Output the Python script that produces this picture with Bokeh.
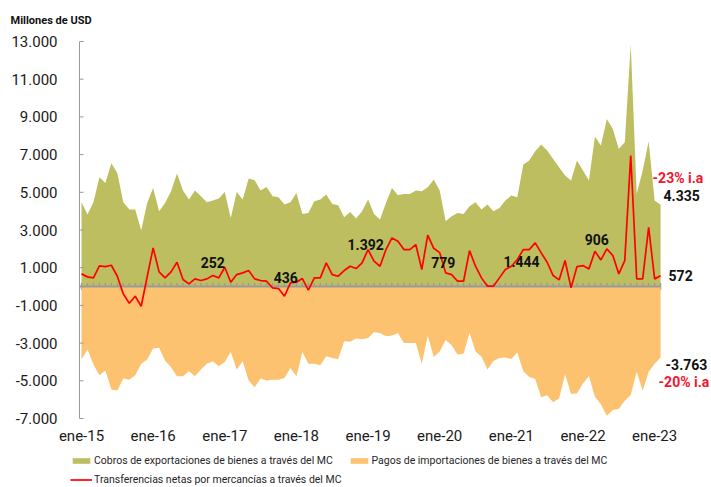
import math
from bokeh.plotting import figure
from bokeh.models import Legend, LegendItem, ColumnDataSource
from bokeh.core.properties import value
from bokeh.embed import file_html
from bokeh.resources import INLINE

# Monthly index: 0 = ene-15 ... 97 = feb-23
month_idx = list(range(98))

exports = [4490, 3819, 4473, 5799, 5499, 6542, 6029, 4473, 4084, 4084, 2988, 4438,
           5233, 3996, 4438, 5056, 5994, 5092, 4614, 5092, 4791, 4473, 4561, 4667,
           5021, 3642, 5021, 4614, 5728, 5640, 5092, 5286, 4791, 4738, 4350, 4473,
           4968, 3854, 3907, 4526, 4614, 4880, 4385, 4314, 3677, 3960, 3607, 3996,
           4614, 3854, 3554, 4438, 5233, 4844, 4914, 4914, 5092, 5056, 5269, 5675,
           5092, 3465, 3730, 3907, 3854, 4261, 4473, 4084, 4350, 3996, 4173, 4561,
           4827, 4738, 6471, 6683, 7178, 7532, 7213, 6771, 6329, 5887, 5622, 6683,
           6153, 5622, 7956, 7478, 8893, 8363, 7302, 7655, 12836, 4915, 6153, 7691,
           4561, 4335]

imports = [-3870, -3340, -4140, -4700, -4460, -5460, -5520, -4880, -4950, -4700, -4100, -3870,
           -3290, -3250, -3930, -4280, -4760, -4760, -4490, -4760, -4400, -4100, -3960, -4230,
           -4000, -3470, -4400, -3960, -4990, -5340, -4880, -4990, -4940, -4940, -4850, -4320,
           -4760, -3470, -4100, -4100, -4180, -3700, -3790, -3840, -2900, -2935, -2760, -2790,
           -2725, -2425, -2460, -2635, -2600, -2480, -2990, -2990, -3000, -4100, -2600, -3740,
           -3450, -2830, -3120, -3620, -3550, -2450, -3450, -3730, -4400, -3950, -3790, -3770,
           -3850, -3500, -4490, -4800, -4900, -5870, -5760, -6140, -5940, -4650, -5700, -5660,
           -5140, -4740, -5850, -6240, -6860, -6550, -6480, -6060, -5750, -4520, -5530, -4520,
           -4100, -3763]

net = [672, 513, 460, 1096, 1061, 1131, 548, -389, -884, -513, -1043, 520,
       2051, 778, 460, 778, 1291, 371, 141, 407, 318, 407, 583, 460,
       1025, 230, 636, 725, 849, 407, 318, 283, -71, -106, -513, 194,
       230, 424, -194, 460, 460, 1255, 636, 548, 849, 1078, 955, 1255,
       1962, 1344, 1078, 1962, 2581, 2404, 1962, 1962, 2228, 902, 2723, 2030,
       1800, 725, 636, 283, 283, 1909, 1078, 460, 18, 18, 460, 902,
       1078, 1432, 1962, 1962, 2316, 1786, 1290, 583, 354, 1379, -71, 1061,
       1114, 937, 1874, 1414, 1998, 1644, 672, 1379, 6948, 407, 407, 3147,
       407, 572]

year_ticks = [0, 12, 24, 36, 48, 60, 72, 84, 96]
year_labels = ["ene-15", "ene-16", "ene-17", "ene-18", "ene-19",
               "ene-20", "ene-21", "ene-22", "ene-23"]

y_ticks = [-7000, -5000, -3000, -1000, 1000, 3000, 5000, 7000, 9000, 11000, 13000]
y_tick_labels = ["-7.000", "-5.000", "-3.000", "-1.000", "1.000", "3.000",
                 "5.000", "7.000", "9.000", "11.000", "13.000"]
Y_MIN, Y_MAX = -7000, 13000

note_x = [22.0, 34.2, 47.6, 60.6, 73.7, 86.3]
note_y = [1290, 490, 2240, 1290, 1340, 2510]
note_text = ["252", "436", "1.392", "779", "1.444", "906"]

GREEN = "#BDBE60"
ORANGE = "#FDC26F"
RED = "#FF0000"
LABEL_RED = "#F2142D"
AXIS_GREY = "#9a9a9a"
TEXT = "#1a1a1a"
FONT = "Roboto"

# ---- layout (pixels -> data units) ----
W, H = 711, 487
PLOT_LEFT, PLOT_TOP, PLOT_BOTTOM = 79, 41, 418
PX_PER_UNIT = (PLOT_BOTTOM - PLOT_TOP) / (Y_MAX - Y_MIN)
PX_PER_MONTH = 5.97
AXIS_X = -0.335
X_START = AXIS_X - PLOT_LEFT / PX_PER_MONTH
X_END = AXIS_X + (W - PLOT_LEFT) / PX_PER_MONTH
Y_TOP = Y_MAX + PLOT_TOP / PX_PER_UNIT
Y_BOTTOM = Y_MIN - (H - PLOT_BOTTOM) / PX_PER_UNIT
MONTH_LABEL_Y = Y_MIN - 17 / PX_PER_UNIT
TICK_LEN = 4 / PX_PER_MONTH


def fmt(v):
    return f"{v:,}".replace(",", ".")


p = figure(width=W, height=H, output_backend="svg", toolbar_location=None,
           x_range=(X_START, X_END), y_range=(Y_BOTTOM, Y_TOP),
           x_axis_location=None, y_axis_location=None, min_border=0)
p.grid.visible = False
p.outline_line_color = None
p.background_fill_color = "white"

# Areas
g = p.varea(x=month_idx, y1=0, y2=exports, fill_color=GREEN)
p.scatter(x=month_idx, y=0, marker="dash", angle=math.pi / 2, size=7,
          line_color=AXIS_GREY, line_width=1.3)
o = p.varea(x=month_idx, y1=imports, y2=0, fill_color=ORANGE)
p.line(x=[AXIS_X, month_idx[-1]], y=[0, 0], line_color=AXIS_GREY, line_width=2)
r = p.line(x=month_idx, y=net, line_color=RED, line_width=1.7)

# Value axis (line, inward ticks, labels)
p.segment(x0=AXIS_X, y0=Y_MIN, x1=AXIS_X, y1=Y_MAX, line_color=AXIS_GREY, line_width=1)
p.segment(x0=AXIS_X, y0=y_ticks, x1=AXIS_X + TICK_LEN, y1=y_ticks,
          line_color=AXIS_GREY, line_width=1)
p.text(x=AXIS_X, y=y_ticks, text=y_tick_labels, x_offset=-22, text_font=value(FONT),
       text_font_size="15px", text_align="right", text_baseline="middle", text_color=TEXT)

# Title
p.text(x=[AXIS_X], y=[Y_MAX], text=["Millones de USD"], x_offset=-69, y_offset=-21,
       text_font=value(FONT), text_font_size="11px", text_font_style="bold",
       text_align="left", text_baseline="middle", text_color="#111111")

# Month labels (category axis labels)
p.text(x=year_ticks, y=MONTH_LABEL_Y, text=year_labels, text_font=value(FONT),
       text_font_size="15px", text_align="center", text_baseline="middle",
       text_color=TEXT)

# Year notes
p.text(x=note_x, y=note_y, text=note_text, text_font=value(FONT), text_font_size="14px",
       text_font_style="bold", text_align="center", text_baseline="middle", text_color="#111111")

# End labels
last = month_idx[-1]
end_src = ColumnDataSource(dict(
    x=[last, last, last],
    y=[exports[-1], net[-1], imports[-1]],
    t=[fmt(exports[-1]), fmt(net[-1]), fmt(imports[-1])],
    dx=[3, 8, 5],
    dy=[-9, 0, 7],
))
p.text(x="x", y="y", text="t", x_offset="dx", y_offset="dy", source=end_src,
       text_font=value(FONT), text_font_size="14px", text_font_style="bold",
       text_align="left", text_baseline="middle", text_color="#111111")

pct_src = ColumnDataSource(dict(
    x=[last, last],
    y=[exports[-1], imports[-1]],
    t=["-23% i.a", "-20% i.a"],
    dx=[-8, -2],
    dy=[-27, 25],
))
p.text(x="x", y="y", text="t", x_offset="dx", y_offset="dy", source=pct_src,
       text_font=value(FONT), text_font_size="14px", text_font_style="bold",
       text_align="left", text_baseline="middle", text_color=LABEL_RED)

legend = Legend(items=[
    LegendItem(label="Cobros de exportaciones de bienes a través del MC", renderers=[g]),
    LegendItem(label="Pagos de importaciones de bienes a través del MC", renderers=[o]),
    LegendItem(label="Transferencias netas por mercancías a través del MC", renderers=[r]),
], location=(70, 1), orientation="horizontal", ncols=2,
    label_text_font=FONT, label_text_font_size="10.5px", label_text_color="#262626",
    glyph_width=22, glyph_height=7, label_standoff=2, spacing=6, padding=0, margin=0,
    label_height=12, border_line_color=None, background_fill_alpha=0)
p.add_layout(legend)

open("out.html", "w").write(file_html(p, INLINE))
